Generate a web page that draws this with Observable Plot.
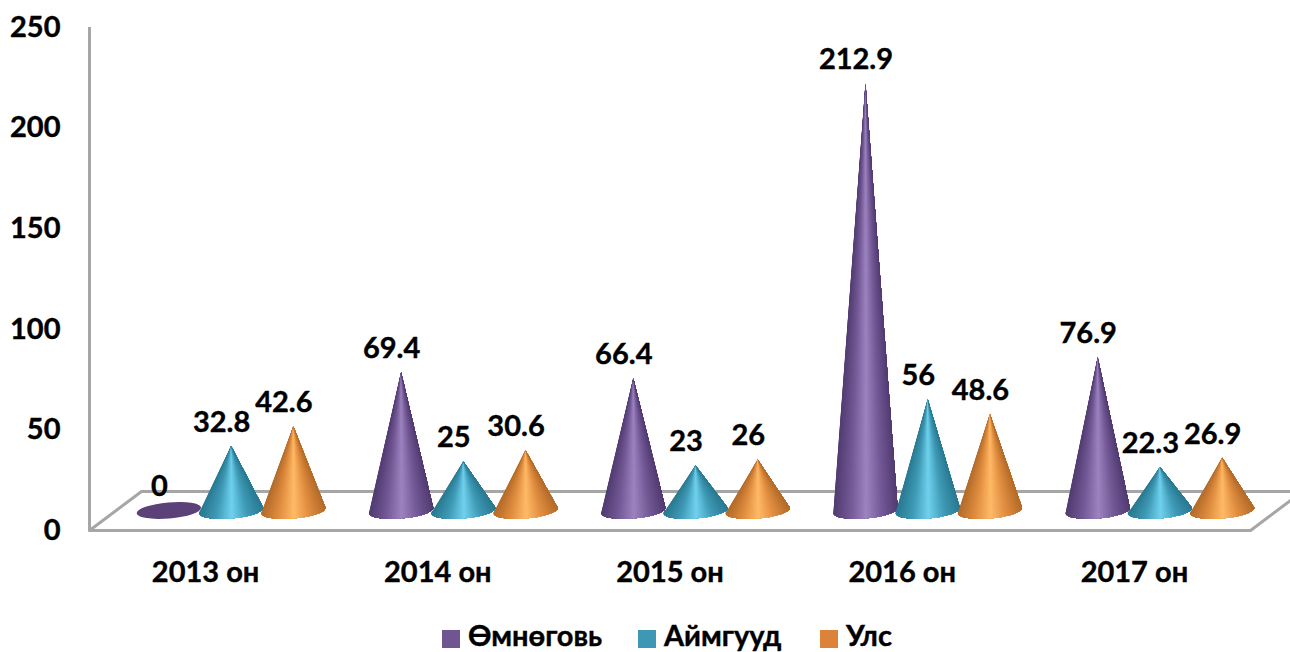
<!DOCTYPE html>
<html><head><meta charset="utf-8">
<script src="https://cdn.jsdelivr.net/npm/d3@7"></script>
<script src="https://cdn.jsdelivr.net/npm/@observablehq/plot@0.6"></script>
<style>
html,body{margin:0;padding:0;background:#fff;overflow:hidden}
body{width:1290px;height:652px;font-family:Lato,"Open Sans",sans-serif;font-weight:700;color:#000}
#chart svg{display:block;overflow:hidden}
#chart svg text{stroke:#000;stroke-width:.4px}
.legend{position:absolute;left:442px;top:617px;display:flex;align-items:center;font-size:29px;line-height:35px;height:35px;white-space:nowrap;-webkit-text-stroke:.4px #000}
.legend i{display:inline-block;width:18px;height:18px;margin-right:8px;position:relative;top:4px}
.legend span{display:flex;align-items:center}
</style></head><body>
<div id="chart"></div>
<div class="legend" id="legend"></div>
<script>
const years = ["2013 он","2014 он","2015 он","2016 он","2017 он"];
const seriesNames = ["Өмнөговь","Аймгууд","Улс"];
const omnogovi = [0,69.4,66.4,212.9,76.9];
const aimguud = [32.8,25,23,56,22.3];
const uls = [42.6,30.6,26,48.6,26.9];
const legendColors = ["#6f5592","#3f98b3","#dc8239"];
const legendWidths = [196,182,80];
const shades = [
  ["#523c72","#725895","#9d83c0","#725895","#523c72"],
  ["#2a7a92","#3f9ab6","#70d2ee","#3f9ab6","#2a7a92"],
  ["#b46c2a","#e08c3f","#ffba66","#e08c3f","#b46c2a"]
];
const ticksY = [0,50,100,150,200,250];
// layout in data units: depth of the 3-D floor, spacing of series within a category
const depthX = 0.224, depthY = 19.4, seriesStep = 0.268, coneHalf = 0.139, tipDrop = 0.7;

const rows = years.flatMap((year,i)=>[omnogovi,aimguud,uls].map((vals,s)=>({
  year, i, s, value: vals[i],
  xc: i + depthX/2 + (s-1)*seriesStep
})));
const floor = [
  {x:-0.5+depthX,y:depthY},{x:-0.5,y:0},{x:4.5,y:0},{x:4.5+depthX,y:depthY},{x:-0.5+depthX,y:depthY}
];
const interp = d3.scaleLinear().domain([0,.25,.5,.75,1]);

function cone(index, scales, values, dims, ctx){
  const g = d3.create("svg:g");
  const ry = 8, rot = -5*Math.PI/180, N = 60;
  for(const k of index){
    const d = rows[k];
    const x1 = values.x1[k], x2 = values.x2[k];
    const cx = (x1+x2)/2, y0 = values.y1[k], tip = values.y2[k];
    const rr = (x2-x1)/2;
    const pt = a => [cx + rr*Math.cos(a)*Math.cos(rot) - ry*Math.sin(a)*Math.sin(rot),
                     y0 + rr*Math.cos(a)*Math.sin(rot) + ry*Math.sin(a)*Math.cos(rot)];
    const color = interp.copy().range(shades[d.s]).interpolate(d3.interpolateRgb);
    g.append("ellipse").attr("cx",cx).attr("cy",y0).attr("rx",rr).attr("ry",ry)
      .attr("transform",`rotate(-5 ${cx} ${y0})`).attr("fill",d.value===0?"#5b4178":shades[d.s][0]);
    if(d.value===0) continue;
    for(let j=0;j<N;j++){
      // each wedge overlaps the following ones, so no seams show between neighbours
      const a0=Math.PI*(j/N), a1=Math.PI;
      const p0=pt(Math.PI-a0), pts=[];
      for(let m=j;m<=N;m++) pts.push(pt(Math.PI-Math.PI*(m/N)));
      const t=(1-Math.cos(Math.PI*(j+.5)/N))/2;
      g.append("path").attr("d",`M${cx},${tip}L`+pts.map(p=>p.join(",")).join("L")+"Z")
       .attr("fill",color(t));
    }
  }
  return g.node();
}

const plot = Plot.plot({
  width:1290, height:610,
  marginLeft:89, marginRight:40, marginTop:27, marginBottom:80,
  style:{fontFamily:'Lato,"Open Sans",sans-serif',fontWeight:700,fontSize:"29px",color:"#000",background:"#fff",overflow:"hidden"},
  x:{type:"linear",domain:[-0.5,4.5],label:null},
  y:{domain:[0,250],label:null},
  marks:[
    Plot.line(floor,{x:"x",y:"y",stroke:"#a6a6a6",strokeWidth:3,clip:false}),
    Plot.ruleX([-0.5],{y1:0,y2:250,stroke:"#a6a6a6",strokeWidth:3}),
    Plot.axisY({ticks:ticksY,tickSize:0,tickPadding:29,label:null,fontSize:29,fontWeight:700,fill:"#000"}),
    Plot.axisX({ticks:d3.range(years.length),tickFormat:i=>years[i],tickSize:0,tickPadding:31,label:null,fontSize:29,fontWeight:700,fill:"#000"}),
    Plot.rectY(rows,{x1:d=>d.xc-coneHalf,x2:d=>d.xc+coneHalf,y1:()=>depthY/2,y2:d=>d.value+depthY/2-(d.value?tipDrop:0),render:cone}),
    Plot.text(rows,{x:"xc",y:d=>d.value+depthY/2-(d.value?tipDrop:0),text:d=>String(d.value),dy:-24,dx:-10,fontSize:29,fontWeight:700,fill:"#000"})
  ]
});
document.getElementById("chart").append(plot);
const lg=document.getElementById("legend");
seriesNames.forEach((n,i)=>{
  const s=document.createElement("span");
  s.style.width=legendWidths[i]+"px";
  const b=document.createElement("i");b.style.background=legendColors[i];
  s.append(b,n);lg.append(s);
});
</script>
</body></html>
